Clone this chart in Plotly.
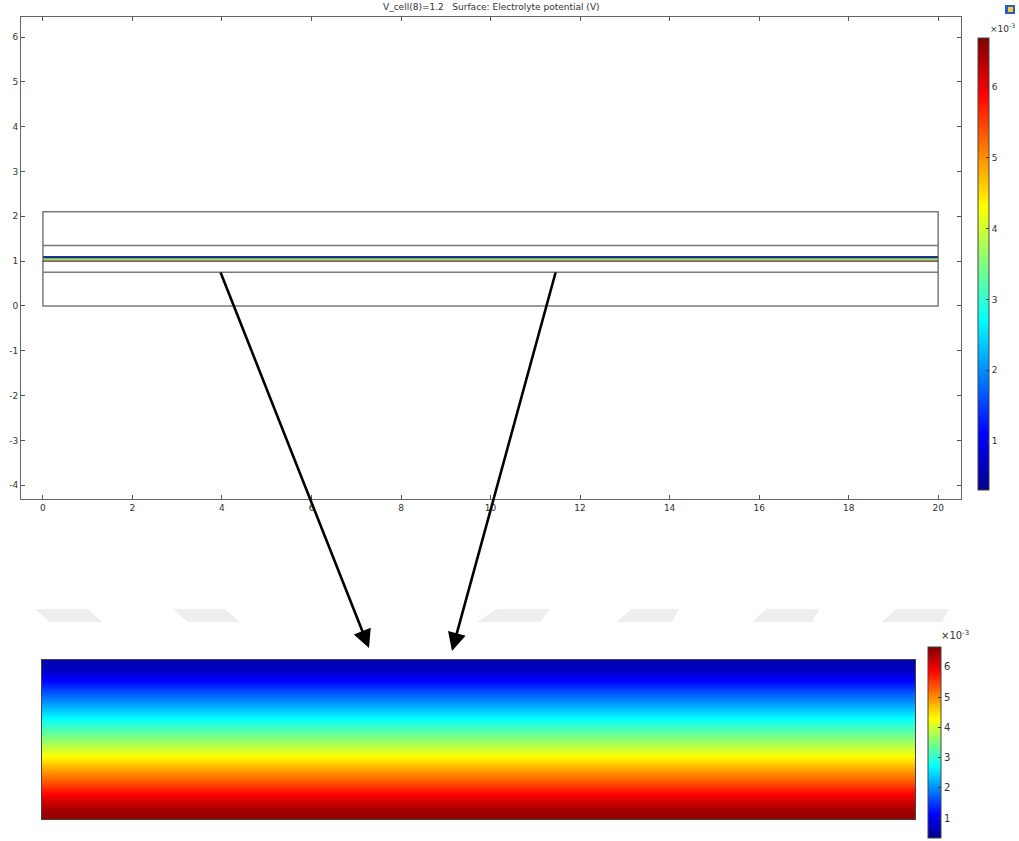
import numpy as np
import plotly.graph_objects as go

W, H = 1019, 841

# ---------------- data ----------------
title_text = "V_cell(8)=1.2   Surface: Electrolyte potential (V)"
x_ticks = [0, 2, 4, 6, 8, 10, 12, 14, 16, 18, 20]
y_ticks = [-4, -3, -2, -1, 0, 1, 2, 3, 4, 5, 6]
cbar_ticks = [1, 2, 3, 4, 5, 6]
cbar_scale_label = "×10<sup>-3</sup>"

domain_x = [0, 10, 20]                       # cell width (edges)
boundary_y = [0.0, 0.75, 1.0, 1.1, 1.35, 2.1]  # layer interfaces
membrane_y = [1.0, 1.1]                      # electrolyte layer with potential field

# electrolyte potential (x1e-3 V) across the layer, from top edge to bottom edge
potential_profile = [0.6, 1.2, 1.8, 2.4, 3.0, 3.6, 4.2, 4.8, 5.4, 6.0, 6.5]
cmin_top, cmax_top = 0.31, 6.69
cmin_bot, cmax_bot = 0.34, 6.66

jet = [[0.0, "rgb(0,0,143)"], [0.125, "rgb(0,0,255)"], [0.375, "rgb(0,255,255)"],
       [0.625, "rgb(255,255,0)"], [0.875, "rgb(255,0,0)"], [1.0, "rgb(128,0,0)"]]

def px(x):
    return x / W

def py(y):
    return 1 - y / H

fig = go.Figure()

# ---- top: geometry view with thin electrolyte layer ----
n = len(potential_profile)
layer_edges = list(np.linspace(membrane_y[1], membrane_y[0], n + 1))
fig.add_trace(go.Heatmap(
    x=domain_x, y=layer_edges,
    z=[[v, v] for v in potential_profile],
    coloraxis="coloraxis", zsmooth="best",
    xaxis="x", yaxis="y", hoverinfo="skip"))

# ---- bottom: zoomed layer ----
rows = list(range(n))
fig.add_trace(go.Heatmap(
    x=[0, 1], y=rows[::-1],
    z=[[v, v] for v in potential_profile],
    coloraxis="coloraxis2", zsmooth="best",
    xaxis="x2", yaxis="y2", hoverinfo="skip"))

shapes = []
shapes.append(dict(type="rect", xref="x", yref="y", x0=domain_x[0], x1=domain_x[-1],
                   y0=boundary_y[0], y1=boundary_y[-1], line=dict(color="#7a7a7a", width=1.5)))
for yb in boundary_y[1:-1]:
    dark = yb in membrane_y
    shapes.append(dict(type="line", xref="x", yref="y", x0=domain_x[0], x1=domain_x[-1],
                       y0=yb, y1=yb,
                       line=dict(color="#222222" if dark else "#7a7a7a", width=1.0 if dark else 1.5)))

# faint ghost strip shapes (watermark)
ghosts = [
    ((35, 88), (50, 102)), ((173, 225), (188, 240)),
    ((497, 550), (477, 540)), ((632, 679), (616, 672)),
    ((766, 819), (752, 812)), ((896, 949), (882, 942)),
]
for (t0, t1), (b0, b1) in ghosts:
    path = f"M {px(t0)} {py(609)} L {px(t1)} {py(609)} L {px(b1)} {py(622)} L {px(b0)} {py(622)} Z"
    shapes.append(dict(type="path", xref="paper", yref="paper", path=path,
                       fillcolor="rgb(238,238,238)", line=dict(width=0), layer="below"))

# tiny icon top-right
shapes.append(dict(type="rect", xref="paper", yref="paper", x0=px(1005), x1=px(1015),
                   y0=py(14), y1=py(5), fillcolor="rgb(40,90,200)", line=dict(width=0)))
shapes.append(dict(type="rect", xref="paper", yref="paper", x0=px(1008), x1=px(1013),
                   y0=py(12), y1=py(7), fillcolor="rgb(240,210,40)", line=dict(width=0)))

annotations = [
    dict(text=title_text, xref="paper", yref="paper", x=px(491), y=py(7),
         xanchor="center", yanchor="middle",
         showarrow=False, font=dict(size=9, color="#333", family="DejaVu Sans")),
    dict(text=cbar_scale_label, xref="paper", yref="paper", x=px(1002), y=py(28),
         xanchor="center", yanchor="middle",
         showarrow=False, font=dict(size=9, color="#333", family="DejaVu Sans")),
    dict(text=cbar_scale_label, xref="paper", yref="paper", x=px(955), y=py(635),
         xanchor="center", yanchor="middle",
         showarrow=False, font=dict(size=10, color="#333", family="DejaVu Sans")),
]
arrows = [((369, 648), (220, 271)), ((452, 651), (556, 271))]
for (hx, hy), (tx, ty) in arrows:
    annotations.append(dict(xref="paper", yref="paper", x=px(hx), y=py(hy),
                            ax=tx - hx, ay=ty - hy, axref="pixel", ayref="pixel",
                            showarrow=True, arrowhead=2, arrowsize=1.4, arrowwidth=2.6,
                            arrowcolor="black", text=""))

axis_common = dict(showgrid=False, zeroline=False, showline=True, mirror="ticks",
                   ticks="inside", ticklen=4, tickcolor="#555", linecolor="#666",
                   linewidth=1, tickfont=dict(size=9, color="#333", family="DejaVu Sans"))

fig.update_layout(
    width=W, height=H, autosize=False,
    margin=dict(l=0, r=0, t=0, b=0),
    paper_bgcolor="white", plot_bgcolor="white",
    showlegend=False,
    xaxis=dict(domain=[px(21), px(961)], range=[-0.49, 20.51], tickvals=x_ticks,
               ticktext=[str(v) for v in x_ticks], anchor="y", **axis_common),
    yaxis=dict(domain=[py(499), py(17)], range=[-4.305, 6.446], tickvals=y_ticks,
               ticktext=[str(v) for v in y_ticks], anchor="x", **axis_common),
    xaxis2=dict(domain=[px(42), px(915)], range=[-0.5, 1.5], anchor="y2",
                showgrid=False, zeroline=False, showticklabels=False, ticks="",
                showline=True, mirror=True, linecolor="#444", linewidth=1),
    yaxis2=dict(domain=[py(819), py(660)], range=[-0.5, n - 0.5], anchor="x2",
                showgrid=False, zeroline=False, showticklabels=False, ticks="",
                showline=True, mirror=True, linecolor="#444", linewidth=1),
    coloraxis=dict(colorscale=jet, cmin=cmin_top, cmax=cmax_top,
                   colorbar=dict(x=px(978), xanchor="left", y=py(38), yanchor="top",
                                 len=452 / H, lenmode="fraction", thickness=11,
                                 thicknessmode="pixels", outlinewidth=1, outlinecolor="#444",
                                 tickvals=cbar_ticks, ticks="inside", ticklen=3,
                                 tickcolor="#333", xpad=0, ypad=0,
                                 tickfont=dict(size=9, color="#333", family="DejaVu Sans"))),
    coloraxis2=dict(colorscale=jet, cmin=cmin_bot, cmax=cmax_bot,
                    colorbar=dict(x=px(928), xanchor="left", y=py(647), yanchor="top",
                                  len=191 / H, lenmode="fraction", thickness=13,
                                  thicknessmode="pixels", outlinewidth=1, outlinecolor="#444",
                                  tickvals=cbar_ticks, ticks="inside", ticklen=3,
                                  tickcolor="#333", xpad=0, ypad=0,
                                  tickfont=dict(size=10, color="#333", family="DejaVu Sans"))),
    shapes=shapes,
    annotations=annotations,
)

fig.write_html("out.html", config={"displayModeBar": False},
               post_script="document.body.style.margin='0';document.body.style.overflow='hidden';")
